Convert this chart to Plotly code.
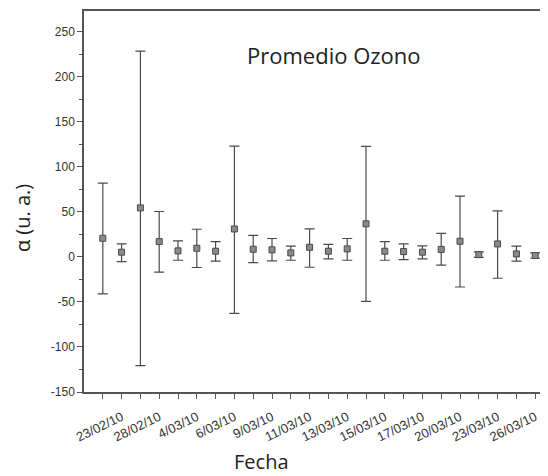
import plotly.graph_objects as go

positions = list(range(1, 25))
values = [20.7, 5.2, 54.4, 17.0, 6.7, 9.6, 6.3, 31.0, 8.5, 7.8, 4.4, 10.7,
          6.3, 8.9, 36.7, 6.3, 5.9, 5.2, 8.3, 17.4, 2.5, 14.4, 3.3, 1.5]
upper = [82, 14.4, 228.5, 50.4, 17.8, 30.7, 17.0, 123, 24.0, 20.4, 11.9, 31.0,
         14.0, 20.4, 122.6, 17.0, 14.4, 12.2, 26.2, 67.4, 5.5, 51.0, 11.9, 4.4]
lower = [-41, -5.2, -120.7, -17.0, -3.7, -11.8, -4.8, -62.6, -6.3, -4.4, -3.7, -11.5,
         -2.2, -3.7, -49.3, -3.7, -3.0, -2.2, -9.1, -33.4, -0.5, -23.7, -4.8, -1.5]
tick_labels = ["", "23/02/10", "", "28/02/10", "", "4/03/10", "", "6/03/10", "",
               "9/03/10", "", "11/03/10", "", "13/03/10", "", "15/03/10", "",
               "17/03/10", "", "20/03/10", "", "23/03/10", "", "26/03/10"]
y_ticks = [-150, -100, -50, 0, 50, 100, 150, 200, 250]
y_minor = [-125, -75, -25, 25, 75, 125, 175, 225]

err_plus = [u - v for u, v in zip(upper, values)]
err_minus = [v - l for v, l in zip(values, lower)]

fig = go.Figure()
fig.add_trace(go.Scatter(
    x=positions, y=values, mode="markers",
    marker=dict(symbol="square", size=6, color="#8a8a8a",
                line=dict(color="#4a4a4a", width=1)),
    error_y=dict(type="data", symmetric=False, array=err_plus, arrayminus=err_minus,
                 color="#4a4a4a", thickness=1.2, width=5),
    showlegend=False,
))

axis_color = "#555555"
fig.update_xaxes(
    range=[0, 24.68], tickmode="array", tickvals=positions, ticktext=tick_labels,
    tickangle=-26, ticks="outside", ticklen=5, tickcolor=axis_color,
    ticklabelstandoff=6,
    showline=True, linecolor=axis_color, linewidth=1.5, mirror=True,
    showgrid=False, zeroline=False, automargin=False,
    tickfont=dict(family="Liberation Sans", size=13, color="#333333"),
)
fig.update_yaxes(
    range=[-150, 273], tickmode="array",
    tickvals=y_ticks, ticktext=[str(v) for v in y_ticks],
    ticks="outside", ticklen=5, tickcolor=axis_color,
    minor=dict(tickmode="array", tickvals=y_minor,
               ticks="outside", ticklen=3, tickcolor=axis_color),
    showline=True, linecolor=axis_color, linewidth=1.5,
    showgrid=False, zeroline=False, automargin=False,
    tickfont=dict(family="Liberation Sans", size=12, color="#333333"),
)

fig.add_annotation(text="Promedio Ozono", xref="paper", yref="paper",
                   x=0.539, y=0.885, showarrow=False,
                   xanchor="center", yanchor="middle",
                   font=dict(family="Open Sans", size=22, color="#222222"))
fig.add_annotation(text="α (u. a.)", xref="paper", yref="paper",
                   x=-0.131, y=0.457, textangle=-90, showarrow=False,
                   xanchor="center", yanchor="middle",
                   font=dict(family="Open Sans", size=20, color="#222222"))
fig.add_annotation(text="Fecha", xref="paper", yref="paper",
                   x=0.383, y=-0.183, showarrow=False,
                   xanchor="center", yanchor="middle",
                   font=dict(family="Open Sans", size=20, color="#222222"))

# the page body has an 8px default margin, so the figure is 8px smaller
fig.update_layout(
    width=540, height=468,
    margin=dict(l=76, r=0, t=3, b=84),
    plot_bgcolor="white", paper_bgcolor="white",
)

fig.write_html("out.html")
